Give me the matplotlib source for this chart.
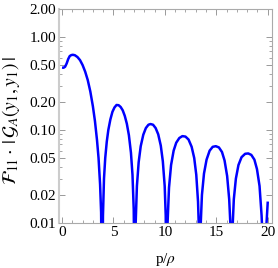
import matplotlib
matplotlib.use('Agg')
import matplotlib.pyplot as plt
from matplotlib.ticker import FixedLocator, FixedFormatter

plt.rcParams['font.family'] = ['Liberation Serif', 'DejaVu Serif']
plt.rcParams['mathtext.fontset'] = 'stix'

# values (one block per lobe)
p_rho = [0.0, 0.15, 0.3, 0.45, 0.6, 0.75, 0.9, 1.05, 1.25, 1.5, 1.75, 2.0, 2.25, 2.5, 2.75, 3.0, 3.2,
         3.4, 3.55, 3.7, 3.8, 3.9,
         3.98, 4.08, 4.2, 4.35, 4.5, 4.7, 4.9, 5.1, 5.3, 5.5, 5.7, 5.9, 6.1, 6.3, 6.5, 6.7, 6.85,
         6.97, 7.08,
         7.16, 7.28, 7.45, 7.65, 7.9, 8.15, 8.4, 8.6, 8.85, 9.1, 9.35, 9.6, 9.8, 9.98, 10.08, 10.17,
         10.26, 10.4, 10.6, 10.85, 11.1, 11.4, 11.7, 12.0, 12.3, 12.6, 12.85, 13.05, 13.22, 13.3,
         13.38,
         13.47, 13.6, 13.8, 14.05, 14.35, 14.65, 14.95, 15.25, 15.55, 15.8, 16.05, 16.25, 16.38,
         16.47,
         16.56, 16.7, 16.9, 17.15, 17.45, 17.8, 18.1, 18.4, 18.7, 18.95, 19.2, 19.4, 19.52, 19.62,
         19.75, 19.88, 20.0]
g_abs = [0.47, 0.468, 0.48, 0.52, 0.58, 0.625, 0.64, 0.645, 0.638, 0.61, 0.565, 0.50, 0.425, 0.345, 0.26, 0.18, 0.125,
         0.078, 0.05, 0.026, 0.013, 0.001,
         0.012, 0.03, 0.05, 0.075, 0.10, 0.13, 0.157, 0.175, 0.186, 0.185, 0.177, 0.163, 0.142, 0.117, 0.088, 0.057, 0.033,
         0.014, 0.001,
         0.01, 0.025, 0.045, 0.067, 0.089, 0.105, 0.114, 0.116, 0.114, 0.105, 0.09, 0.068, 0.046, 0.025, 0.012, 0.001,
         0.01, 0.024, 0.042, 0.06, 0.073, 0.082, 0.086, 0.085, 0.079, 0.066, 0.05, 0.033, 0.017, 0.009,
         0.001,
         0.009, 0.02, 0.034, 0.048, 0.06, 0.066, 0.067, 0.065, 0.058, 0.047, 0.032, 0.018, 0.009,
         0.001,
         0.008, 0.018, 0.03, 0.042, 0.051, 0.0555, 0.056, 0.054, 0.048, 0.038, 0.025, 0.012, 0.006, 0.001,
         0.005, 0.01, 0.017]

x_ticks = [0, 5, 10, 15, 20]
y_ticks = [0.01, 0.02, 0.05, 0.1, 0.2, 0.5, 1.0, 2.0]
y_tick_labels = ['0.01', '0.02', '0.05', '0.10', '0.20', '0.50', '1.00', '2.00']

fig = plt.figure(figsize=(2.78, 2.68), dpi=100)
ax = fig.add_axes([0.212, 0.168, 0.766, 0.798])

ax.plot(p_rho, g_abs, color='#0000ff', lw=1.8, solid_joinstyle='round', solid_capstyle='butt')
ax.set_yscale('log')
ax.set_xlim(-0.3, 20.4)
ax.set_ylim(0.01, 2.0)

ax.xaxis.set_major_locator(FixedLocator(x_ticks))
ax.xaxis.set_minor_locator(FixedLocator([i for i in range(21) if i % 5 != 0]))
minor_y = [m * d for d in [0.01, 0.1, 1.0] for m in range(2, 10)]
minor_y = [v for v in minor_y if v < 2.0 and round(v, 4) not in y_ticks]
ax.yaxis.set_major_locator(FixedLocator(y_ticks))
ax.yaxis.set_major_formatter(FixedFormatter(y_tick_labels))
ax.yaxis.set_minor_locator(FixedLocator(minor_y))
ax.yaxis.set_minor_formatter(FixedFormatter([]))

ax.tick_params(which='both', direction='in', top=True, right=True, color='#999999',
               labelsize=11, pad=2)
ax.tick_params(which='major', length=4, width=0.7)
ax.tick_params(which='minor', length=2, width=0.6)

for side in ['top', 'right', 'bottom']:
    ax.spines[side].set_color('#aaaaaa')
    ax.spines[side].set_linewidth(0.8)
ax.spines['left'].set_color('#cccccc')
ax.spines['left'].set_linewidth(1.5)

ax.set_xlabel(r'p/$\rho$', fontsize=11)
ax.xaxis.set_label_coords(0.5, -0.13)
ax.set_ylabel(r'$\mathcal{F}_{11}\cdot\,|\,\mathcal{G}_A(y_1,y_1)\,|$', fontsize=14)
ax.yaxis.set_label_coords(-0.175, 0.48)

fig.savefig('out.png', dpi=100)
